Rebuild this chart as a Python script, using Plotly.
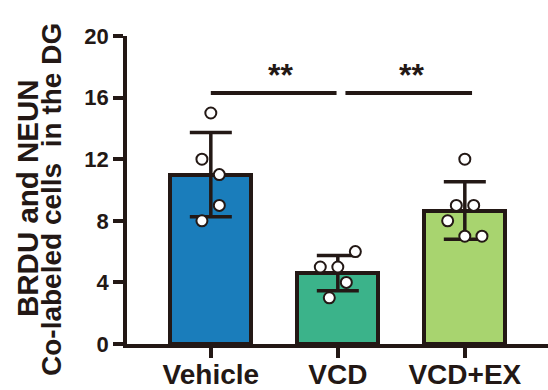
import numpy as np
import plotly.graph_objects as go

# Group names and per-animal counts
categories = ["Vehicle", "VCD", "VCD+EX"]
vehicle_counts = [15, 12, 11, 9, 8]
vcd_counts = [6, 5, 5, 4, 3]
vcd_ex_counts = [12, 9, 9, 8, 7, 7]
y_ticks = [0, 4, 8, 12, 16, 20]
sig_label = "**"

# Horizontal scatter of the individual points within each bar
vehicle_jitter = [0.0, -0.07, 0.067, 0.067, -0.07]
vcd_jitter = [0.138, -0.138, 0.0, 0.067, -0.067]
vcd_ex_jitter = [0.0, -0.067, 0.07, -0.135, 0.0, 0.135]

groups = [vehicle_counts, vcd_counts, vcd_ex_counts]
jitters = [vehicle_jitter, vcd_jitter, vcd_ex_jitter]
means = [float(np.mean(g)) for g in groups]
sds = [float(np.std(g, ddof=1)) for g in groups]

INK = "#231815"
bar_colors = ["#1a7dbb", "#3bb38a", "#a8d46f"]
FONT = "Arial, Liberation Sans, Helvetica, sans-serif"

fig = go.Figure()

fig.add_trace(go.Bar(
    x=list(range(len(categories))),
    y=means,
    width=0.64,
    marker=dict(color=bar_colors, line=dict(color=INK, width=4)),
    error_y=dict(type="data", array=sds, visible=True,
                 color=INK, thickness=3.5, width=21),
    showlegend=False,
))

px_all, py_all = [], []
for i, (g, j) in enumerate(zip(groups, jitters)):
    px_all += [i + d for d in j]
    py_all += g
fig.add_trace(go.Scatter(
    x=px_all, y=py_all, mode="markers",
    marker=dict(size=11, color="white", line=dict(color=INK, width=2)),
    showlegend=False, cliponaxis=False,
))

# Significance brackets
sig_y = 16.3
for (x0, x1, xs) in [(0.0, 0.99, 0.55), (1.06, 2.057, 1.58)]:
    fig.add_shape(type="line", x0=x0, x1=x1, y0=sig_y, y1=sig_y,
                  xref="x", yref="y", line=dict(color=INK, width=3.8))
    fig.add_annotation(x=xs, y=17.45, xref="x", yref="y", text=sig_label,
                       showarrow=False, xanchor="center", yanchor="middle",
                       font=dict(family=FONT, size=32, color=INK, weight="bold"))

# Two-line y-axis title
W, H = 548, 390
L, R, T, B = 127, 0, 36, 46
pw, ph = W - L - R, H - T - B
title_lines = [("BRDU and NEUN", 27, 198, 29.5),
               ("Co-labeled cells\u00a0 in the DG", 51, 200, 28)]
for text, xc, yc, fs in title_lines:
    fig.add_annotation(x=(xc - L) / pw, y=(H - B - yc) / ph, xref="paper", yref="paper",
                       text=text, textangle=-90, showarrow=False,
                       xanchor="center", yanchor="middle",
                       font=dict(family=FONT, size=fs, color=INK, weight="bold"))

fig.update_xaxes(
    range=[-0.66, 2.655], automargin=False,
    tickvals=list(range(len(categories))), ticktext=categories,
    showline=True, linecolor=INK, linewidth=3.5,
    ticks="outside", ticklen=10, tickwidth=3.5, tickcolor=INK,
    ticklabelstandoff=-7,
    showgrid=False, zeroline=False,
    tickfont=dict(family=FONT, size=28, color=INK, weight="bold"),
)
fig.update_yaxes(
    range=[0, 20], tickvals=y_ticks, automargin=False,
    showline=True, linecolor=INK, linewidth=3.5,
    ticks="outside", ticklen=10, tickwidth=3.5, tickcolor=INK,
    showgrid=False, zeroline=False,
    tickfont=dict(family=FONT, size=22, color=INK, weight="bold"),
)

fig.update_layout(
    width=W, height=H,
    margin=dict(l=L, r=R, t=T, b=B, pad=0, autoexpand=False),
    plot_bgcolor="white", paper_bgcolor="white",
    bargap=0,
)

fig.write_html("out.html")
